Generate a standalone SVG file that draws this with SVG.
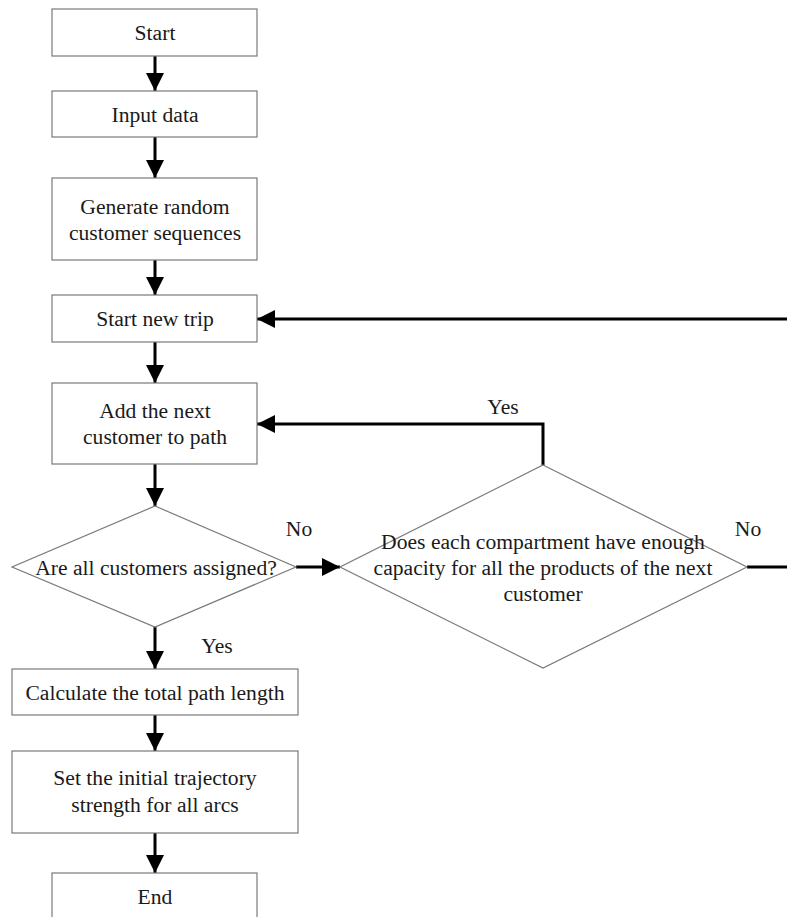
<svg xmlns="http://www.w3.org/2000/svg" width="787" height="917" viewBox="0 0 787 917">
  <style>
    .box { fill: #ffffff; stroke: #7a7a7a; stroke-width: 1.2; }
    .lbl { font-family: "Liberation Serif", "Times New Roman", serif; font-size: 21.6px; fill: #1a1a1a; text-anchor: middle; }
    .flow { fill: none; stroke: #000000; stroke-width: 3; }
  </style>
  <defs>
    <marker id="arrow" viewBox="0 0 18 18" refX="18" refY="9" markerWidth="18" markerHeight="18" markerUnits="userSpaceOnUse" orient="auto">
      <path d="M0,0 L18,9 L0,18 Z" fill="#000000"/>
    </marker>
  </defs>
  <rect width="787" height="917" fill="#ffffff"/>

  <!-- connectors -->
  <g id="connectors">
    <path class="flow" d="M155,56 V91" marker-end="url(#arrow)"/>
    <path class="flow" d="M155,137 V178" marker-end="url(#arrow)"/>
    <path class="flow" d="M155,260 V295" marker-end="url(#arrow)"/>
    <path class="flow" d="M155,342 V383" marker-end="url(#arrow)"/>
    <path class="flow" d="M155,464 V506" marker-end="url(#arrow)"/>
    <path class="flow" d="M296,567 H340" marker-end="url(#arrow)"/>
    <path class="flow" d="M543,465 V424 H257" marker-end="url(#arrow)"/>
    <path class="flow" d="M747,567 H791 V319 H257" marker-end="url(#arrow)"/>
    <path class="flow" d="M155,627 V669" marker-end="url(#arrow)"/>
    <path class="flow" d="M155,715 V751" marker-end="url(#arrow)"/>
    <path class="flow" d="M155,833 V873" marker-end="url(#arrow)"/>
    <text class="lbl" x="503" y="414">Yes</text>
    <text class="lbl" x="299" y="536">No</text>
    <text class="lbl" x="748" y="536">No</text>
    <text class="lbl" x="217" y="653">Yes</text>
  </g>

  <g id="start">
    <rect class="box" x="52" y="9" width="205" height="47"/>
    <text class="lbl" x="155" y="40">Start</text>
  </g>
  <g id="input">
    <rect class="box" x="52" y="91" width="205" height="46"/>
    <text class="lbl" x="155" y="122">Input data</text>
  </g>
  <g id="generate">
    <rect class="box" x="52" y="178" width="205" height="82"/>
    <text class="lbl" x="155" y="214">Generate random</text>
    <text class="lbl" x="155" y="240">customer sequences</text>
  </g>
  <g id="new-trip">
    <rect class="box" x="52" y="295" width="205" height="47"/>
    <text class="lbl" x="155" y="326">Start new trip</text>
  </g>
  <g id="add-customer">
    <rect class="box" x="52" y="383" width="205" height="81"/>
    <text class="lbl" x="155" y="418">Add the next</text>
    <text class="lbl" x="155" y="444">customer to path</text>
  </g>
  <g id="all-assigned">
    <polygon class="box" points="155,506 296,567 155,627 12,567"/>
    <text class="lbl" x="156" y="575">Are all customers assigned?</text>
  </g>
  <g id="capacity-check">
    <polygon class="box" points="543,465 747,567 543,668 340,567"/>
    <text class="lbl" x="543" y="549">Does each compartment have enough</text>
    <text class="lbl" x="543" y="575">capacity for all the products of the next</text>
    <text class="lbl" x="543" y="601">customer</text>
  </g>
  <g id="path-length">
    <rect class="box" x="12" y="669" width="286" height="46"/>
    <text class="lbl" x="155" y="700">Calculate the total path length</text>
  </g>
  <g id="trajectory">
    <rect class="box" x="12" y="751" width="286" height="82"/>
    <text class="lbl" x="155" y="785">Set the initial trajectory</text>
    <text class="lbl" x="155" y="812">strength for all arcs</text>
  </g>
  <g id="end">
    <rect class="box" x="52" y="873" width="205" height="50"/>
    <text class="lbl" x="155" y="904">End</text>
  </g>
</svg>
